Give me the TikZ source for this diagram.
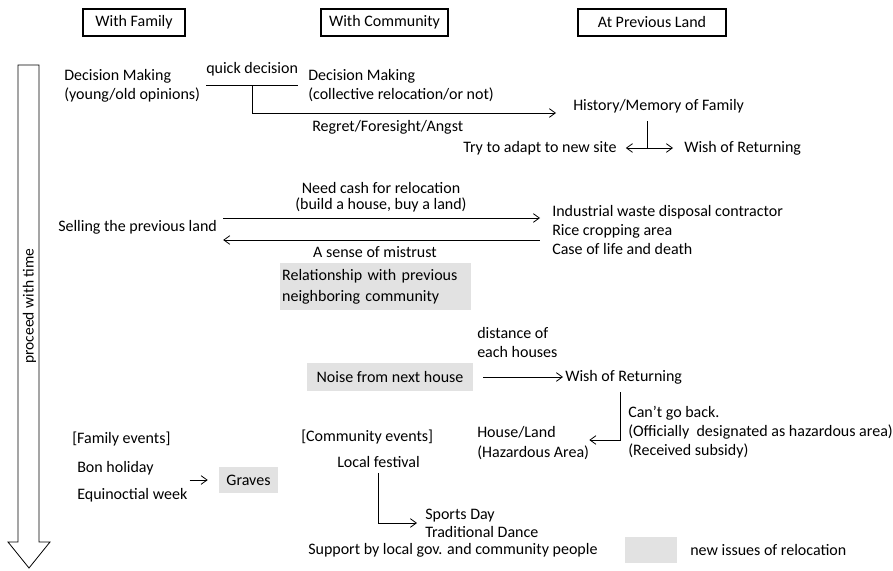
\documentclass[tikz,border=0pt]{standalone}
\usepackage{fontspec}
\setmainfont{Carlito}
\usetikzlibrary{arrows.meta}
\definecolor{issuegray}{RGB}{226,226,226}
\newcommand{\fsz}[1]{\fontsize{12}{#1}\selectfont}

\begin{document}
\begin{tikzpicture}[x=0.75pt,y=-0.75pt,
  >={Straight Barb[length=4.5pt,width=6.5pt]},
  txt/.style={inner sep=0pt,anchor=west,align=left,font=\fsz{14.25pt}},
  head/.style={draw,line width=0.8pt,minimum height=20.25pt,inner sep=0pt,font=\fsz{14pt}},
  issue/.style={fill=issuegray,inner sep=0pt,font=\fsz{14.25pt}},
  link/.style={line width=0.6pt}]
\useasboundingbox (0,0) rectangle (893,571);

% column headings
\node[head,minimum width=76.5pt] (hfam) at (134,22.5) {With Family};
\node[head,minimum width=95.25pt] (hcom) at (384.5,22.5) {With Community};
\node[head,minimum width=111pt] (hland) at (652,22.5) {At Previous Land};

% time axis
\draw[link] (18,65) -- (39,65) -- (39,542) -- (50,542) -- (29,568) -- (8,542) -- (18,542) -- cycle;
\node[rotate=90,inner sep=0pt,font=\fontsize{11.6}{13}\selectfont] (timelbl) at (29.5,306) {proceed with time};

% decision making
\node[txt] (dmfam) at (64,86) {Decision Making\\(young/old opinions)};
\node[txt] (quick) at (206,69) {quick decision};
\node[txt] (dmcom) at (308,86) {Decision Making\\(collective relocation/or not)};
\node[txt] (regret) at (312,127) {Regret/Foresight/Angst};
\node[txt] (hist) at (573,106) {History/Memory of Family};
\node[txt] (adapt) at (463,148) {Try to adapt to new site};
\node[txt] (wishA) at (684,148) {Wish of Returning};

\coordinate (qmid) at ([yshift=-6.75pt]quick.south);
\draw[link] (qmid -| quick.west) -- (qmid -| quick.east);
\draw[link,->,shorten >=12.75pt] (qmid) |- ([yshift=-5.25pt]hist.west);
\coordinate (hsplit) at (647,149);
\draw[link,shorten <=6pt] (hist.south -| hsplit) -- (hsplit);
\draw[link,<->,shorten <=6.75pt,shorten >=8.25pt] (adapt.east) -- (wishA.west);

% selling the land
\node[txt] (sell) at (58,227) {Selling the previous land};
\node[inner sep=0pt,align=center,font=\fsz{12pt}] (cash) at (381,197) {Need cash for relocation\\(build a house, buy a land)};
\node[txt,font=\fsz{14.6pt}] (buyer) at (552,230) {Industrial waste disposal contractor\\Rice cropping area\\Case of life and death};
\node[inner sep=0pt,font=\fsz{14pt}] (mistrust) at (375,252) {A sense of mistrust};
\node[issue,align=left,text width=140pt,inner xsep=1.5pt,minimum height=35.25pt,font=\fsz{15.75pt}] (relation) at (375.5,286.5) {Relationship with previous\\neighboring community};

\coordinate (sellout) at ([shift={(6,-9)}]sell.east);
\coordinate (sellin) at ([shift={(6,13)}]sell.east);
\draw[link,->,shorten >=9pt] (sellout) -- (sellout -| buyer.west);
\draw[link,<-,shorten >=9pt] (sellin) -- (sellin -| buyer.west);

% neighbours
\node[issue,minimum width=124.5pt,minimum height=21pt] (noise) at (390,377) {Noise from next house};
\node[txt] (dist) at (477,342.5) {distance of\\each houses};
\node[txt] (wishB) at (565,377) {Wish of Returning};
\node[txt,font=\fsz{15pt}] (house) at (477,443) {House/Land\\(Hazardous Area)};
\node[txt] (cant) at (628,432) {Can’t go back.\\(Officially\ \ designated as hazardous area)\\(Received subsidy)};

\draw[link,->,shorten <=7.5pt,shorten >=1.5pt] (noise.east) -- (wishB.west);
\coordinate (wbend) at (620,440);
\draw[link,->,shorten <=6pt] (wishB.south -| wbend) -- (wbend) -- (wbend -| house.east);

% events
\node[txt] (famev) at (72,439) {[Family events]};
\node[txt] (bon) at (77,468) {Bon holiday};
\node[txt] (equi) at (77,495) {Equinoctial week};
\node[issue,minimum width=44.25pt,minimum height=19.5pt] (graves) at (248.5,480) {Graves};
\draw[link,->,shorten <=1.5pt,shorten >=8.25pt] (equi.east |- graves.west) -- (graves.west);

\node[txt] (comev) at (301,437) {[Community events]};
\node[txt] (fest) at (337,462) {Local festival};
\node[txt,font=\fsz{13.5pt}] (sports) at (425,523) {Sports Day\\Traditional Dance};
\node[txt] (support) at (308,550) {Support by local gov. and community people};
\draw[link,->,shorten <=3.75pt,shorten >=6pt] (fest.south) |- (sports.west);

% legend
\node[issue,minimum width=39pt,minimum height=19.5pt] (legbox) at (651,550) {};
\node[txt] (legtxt) at (690,550) {new issues of relocation};
\end{tikzpicture}
\end{document}
